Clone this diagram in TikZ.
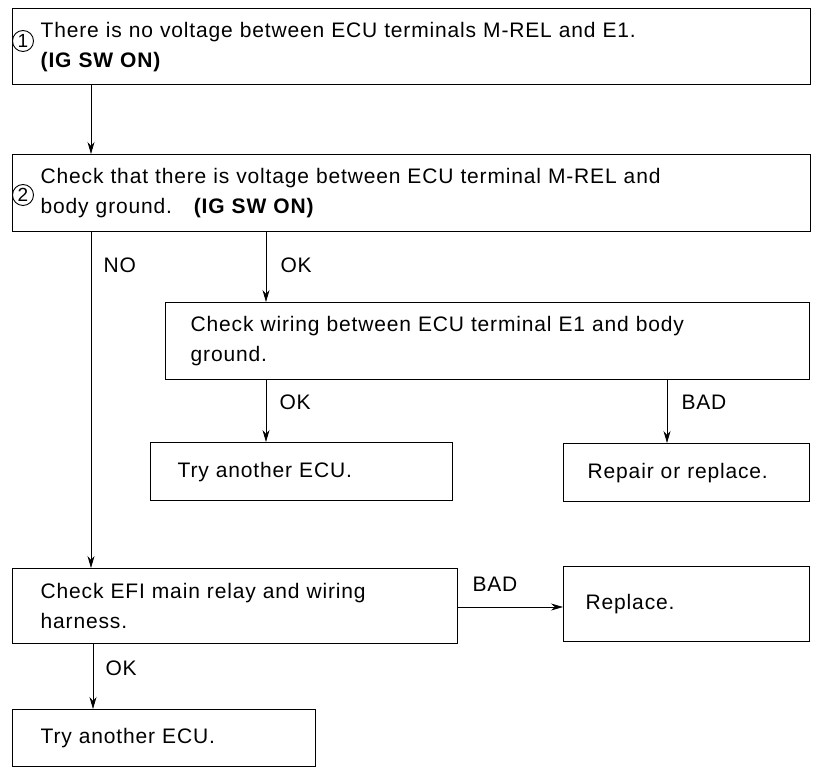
\documentclass[tikz,border=0pt]{standalone}
\usepackage{fontspec}
\setmainfont{Liberation Sans}[LetterSpace=4]
\usetikzlibrary{arrows.meta,positioning}
\tikzset{
  box/.style={draw,line width=1.4pt,anchor=north west,inner ysep=0pt,align=left,
    font=\fontsize{21}{30}\selectfont},
  link/.style={line width=0.8pt},
  arr/.style={link,-{Stealth[length=12pt,width=7pt]}},
  lab/.style={anchor=west,font=\fontsize{21}{30}\selectfont},
  num/.style={draw,circle,line width=0.9pt,inner sep=0pt,minimum size=21pt,
    font=\fontsize{19}{19}\selectfont}
}
\begin{document}
\begin{tikzpicture}[x=1pt,y=-1pt]
\useasboundingbox (0,0) rectangle (818,768);
% boxes
\node[box,minimum height=76pt,inner xsep=28pt,text width=742pt] (b1) at (12,8)
  {There is no voltage between ECU terminals M-REL and E1.\\\textbf{(IG SW ON)}};
\node[num] (n1) at (23,41) {1};
\node[box,minimum height=77pt,inner xsep=28pt,text width=742pt] (b2) at (12,154)
  {Check that there is voltage between ECU terminal M-REL and\\body ground.\quad\textbf{(IG SW ON)}};
\node[num] (n2) at (23,195) {2};
\node[box,minimum height=77pt,inner xsep=25pt,text width=594pt] (b3) at (165,302)
  {Check wiring between ECU terminal E1 and body\\ground.};
\node[box,minimum height=58pt,inner xsep=27pt,text width=248pt] (b4) at (150,442)
  {Try another ECU.};
\node[box,minimum height=58pt,inner xsep=24pt,text width=198pt] (b5) at (563,443)
  {Repair or replace.};
\node[box,minimum height=75pt,inner xsep=28pt,text width=389pt] (b6) at (12,568)
  {Check EFI main relay and wiring\\harness.};
\node[box,minimum height=75pt,inner xsep=22pt,text width=202pt] (b7) at (563,566)
  {Replace.};
\node[box,minimum height=57pt,inner xsep=28pt,text width=247pt] (b8) at (12,709)
  {Try another ECU.};
% connector columns
\coordinate (xa) at (91,0);
\coordinate (xb) at (266,0);
\coordinate (xc) at (667,0);
\coordinate (xd) at (93,0);
\coordinate (yr) at (0,607);
% connectors
\draw[arr] (b1.south -| xa) -- (b2.north -| xa);
\draw[arr] (b2.south -| xa) -- (b6.north -| xa);
\draw[arr] (b2.south -| xb) -- (b3.north -| xb);
\draw[arr] (b3.south -| xb) -- (b4.north -| xb);
\draw[arr] (b3.south -| xc) -- (b5.north -| xc);
\draw[arr] (b6.east |- yr) -- (b7.west |- yr);
\draw[arr] (b6.south -| xd) -- (b8.north -| xd);
% labels
\node[lab] (l1) at (100,265) {NO};
\node[lab] (l2) at (277,265) {OK};
\node[lab] (l3) at (276,402) {OK};
\node[lab] (l4) at (678,402) {BAD};
\node[lab] (l5) at (469,584) {BAD};
\node[lab] (l6) at (102,668) {OK};
\end{tikzpicture}
\end{document}
